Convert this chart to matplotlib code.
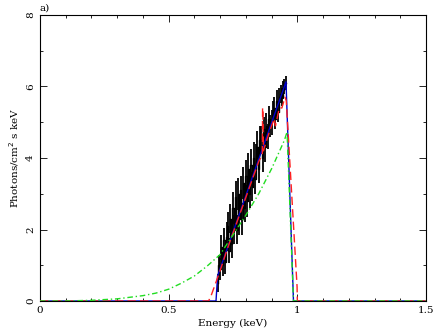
import numpy as np
import matplotlib
matplotlib.use("Agg")
import matplotlib.pyplot as plt
from matplotlib.ticker import MultipleLocator

# observed spectrum (black), bin centres in keV
data_e = [0.690, 0.695, 0.700, 0.705, 0.710, 0.715, 0.720, 0.725, 0.730, 0.735,
          0.740, 0.745, 0.750, 0.755, 0.760, 0.765, 0.770, 0.775, 0.780, 0.785,
          0.790, 0.795, 0.800, 0.805, 0.810, 0.815, 0.820, 0.825, 0.830, 0.835,
          0.840, 0.845, 0.850, 0.855, 0.860, 0.865, 0.870, 0.875, 0.880, 0.885,
          0.890, 0.895, 0.900, 0.905, 0.910, 0.915, 0.920, 0.925, 0.930, 0.935,
          0.940, 0.945, 0.950, 0.955]
data_v = [0.5, 1.0, 0.9, 1.5, 1.0, 1.7, 1.1, 1.8, 2.1, 1.4,
          2.3, 1.6, 2.6, 2.0, 2.9, 2.0, 3.0, 2.3, 3.1, 2.3,
          3.3, 2.6, 3.5, 2.8, 3.7, 3.0, 3.8, 3.2, 4.0, 3.4,
          4.0, 4.3, 3.7, 4.5, 4.5, 4.0, 4.8, 4.3, 4.9, 4.6,
          5.1, 4.9, 5.0, 5.3, 5.4, 5.1, 5.6, 5.3, 5.7, 5.8,
          5.7, 5.9, 6.0, 6.1]
data_err = [0.25, 0.3, 0.3, 0.35, 0.3, 0.35, 0.35, 0.4, 0.4, 0.35,
            0.4, 0.4, 0.45, 0.4, 0.45, 0.4, 0.45, 0.45, 0.4, 0.45,
            0.45, 0.4, 0.45, 0.45, 0.45, 0.4, 0.45, 0.4, 0.45, 0.4,
            0.4, 0.45, 0.4, 0.4, 0.4, 0.4, 0.35, 0.4, 0.35, 0.35,
            0.35, 0.3, 0.35, 0.3, 0.3, 0.3, 0.3, 0.3, 0.25, 0.25,
            0.25, 0.25, 0.2, 0.2]

# model curves
blue_e = [0.0, 0.684, 0.690, 0.956, 0.985, 1.5]
blue_v = [0.0, 0.0, 0.7, 6.13, 0.0, 0.0]

red_e = [0.0, 0.655, 0.665, 0.680, 0.700, 0.730, 0.760, 0.790, 0.820, 0.850,
         0.864, 0.865, 0.866, 0.868, 0.890, 0.910, 0.915, 0.930, 0.940,
         0.952, 0.957, 0.999, 1.000, 1.5]
red_v = [0.0, 0.0, 0.15, 0.45, 0.85, 1.5, 2.1, 2.7, 3.3, 3.9,
         4.1, 5.4, 5.4, 4.2, 4.7, 5.1, 4.9, 5.4, 5.4,
         5.7, 5.6, 0.4, 0.0, 0.0]

green_e = [0.0, 0.10, 0.20, 0.30, 0.40, 0.45, 0.50, 0.55, 0.60, 0.65, 0.70,
           0.75, 0.80, 0.85, 0.90, 0.95, 0.960, 0.985, 1.5]
green_v = [0.0, 0.0, 0.02, 0.06, 0.15, 0.22, 0.33, 0.5, 0.7, 0.98, 1.3,
           1.85, 2.4, 3.0, 3.7, 4.5, 4.73, 0.0, 0.0]

plt.rcParams['font.family'] = ['DejaVu Serif']
plt.rcParams['font.size'] = 7.5

fig = plt.figure(figsize=(4.35, 3.32), dpi=100)
ax = fig.add_axes([40 / 435, 1 - 301 / 332, 386 / 435, 286 / 332])

ax.errorbar(data_e, data_v, yerr=data_err, fmt='none', ecolor='black',
            elinewidth=1.3, capsize=0, zorder=3)
ax.step(data_e, data_v, where='mid', color='black', lw=1.0, zorder=3)
ax.plot(blue_e, blue_v, color='#0000cc', lw=1.0, zorder=4)
ax.plot(red_e, red_v, color='#ff2020', lw=1.0, dashes=(6, 3), zorder=5)
ax.plot(green_e, green_v, color='#22dd22', lw=1.0, dashes=(4, 2, 1, 2), zorder=5)

ax.set_xlim(0, 1.5)
ax.set_ylim(0, 8)
ax.xaxis.set_major_locator(MultipleLocator(0.5))
ax.xaxis.set_minor_locator(MultipleLocator(0.1))
ax.yaxis.set_major_locator(MultipleLocator(2))
ax.yaxis.set_minor_locator(MultipleLocator(1))
ax.set_xticks([0, 0.5, 1, 1.5])
ax.set_xticklabels(['0', '0.5', '1', '1.5'])
ax.tick_params(which='both', direction='in', top=True, right=True, width=0.6)
ax.tick_params(which='major', length=5)
ax.tick_params(which='minor', length=2.5)
for lab in ax.get_yticklabels():
    lab.set_rotation(90)
    lab.set_va('center')
for sp in ax.spines.values():
    sp.set_linewidth(0.8)

ax.set_xlabel('Energy (keV)', labelpad=3)
ax.set_ylabel('Photons/cm$^2$ s keV', labelpad=4)
ax.text(0.0, 1.008, 'a)', transform=ax.transAxes, ha='left', va='bottom')

fig.savefig('out.png', dpi=100)
